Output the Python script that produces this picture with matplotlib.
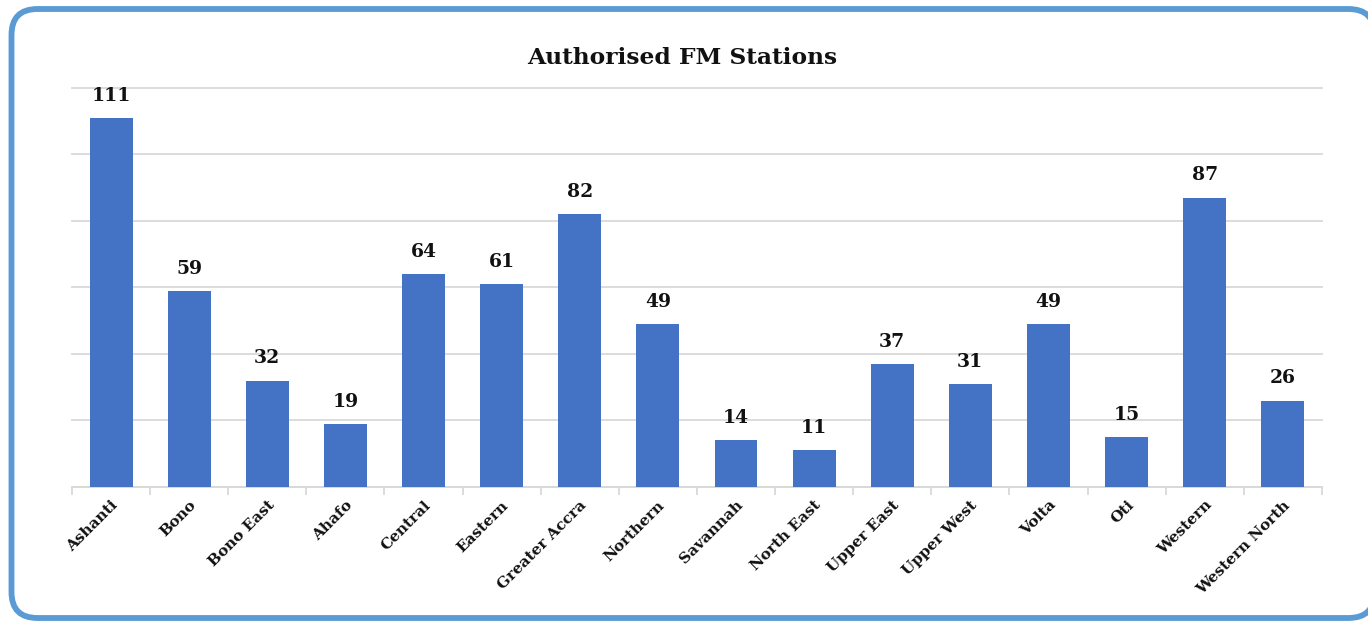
import matplotlib.pyplot as plt
from matplotlib.patches import FancyBboxPatch
from matplotlib.transforms import IdentityTransform

regions = ["Ashanti", "Bono", "Bono East", "Ahafo", "Central", "Eastern",
           "Greater Accra", "Northern", "Savannah", "North East", "Upper East",
           "Upper West", "Volta", "Oti", "Western", "Western North"]
stations = [111, 59, 32, 19, 64, 61, 82, 49, 14, 11, 37, 31, 49, 15, 87, 26]

plt.rcParams['font.family'] = ['DejaVu Serif']

fig = plt.figure(figsize=(13.68, 6.21), dpi=100)
ax = fig.add_axes([0.0526, 0.2158, 0.9137, 0.6425])

x = range(len(regions))
bars = ax.bar(x, stations, width=0.55, color="#4472C4", zorder=3)

for b, v in zip(bars, stations):
    ax.text(b.get_x() + b.get_width() / 2, v + 4, str(v), ha="center",
            va="bottom", fontsize=13.5, fontweight="bold", color="#111111")

ax.set_xlim(-0.5, len(regions) - 0.5)
ax.set_ylim(0, 120)
ax.set_yticks(range(0, 121, 20))
ax.yaxis.grid(True, color="#d9d9d9", linewidth=1.3, zorder=0)
for gl in ax.yaxis.get_gridlines():
    gl.set_clip_on(False)
ax.tick_params(axis="y", left=False, labelleft=False)

ax.set_xticks(list(x))
ax.set_xticklabels(regions, rotation=45, ha="right", rotation_mode="anchor",
                   fontsize=11, fontweight="bold", color="#111111")
ax.tick_params(axis="x", which="major", length=0, pad=8)
ax.set_xticks([i - 0.5 for i in range(len(regions) + 1)], minor=True)
ax.tick_params(axis="x", which="minor", length=6, color="#d9d9d9", width=1.3)

for s in ["top", "right", "left"]:
    ax.spines[s].set_visible(False)
ax.spines["bottom"].set_color("#d9d9d9")
ax.spines["bottom"].set_linewidth(1.3)

fig.text(0.4985, 0.907, "Authorised FM Stations", ha="center", va="center",
         fontsize=16.8, fontweight="bold", color="#111111")

# rounded frame around the chart, in pixel units (y measured from bottom);
# filled white so the renderer keeps the curved corners intact
frame = FancyBboxPatch((11.5, 621 - 618), 1363, 609,
                       boxstyle="round,pad=0,rounding_size=26",
                       transform=IdentityTransform(), facecolor="white",
                       edgecolor="#5B9BD5", linewidth=4.2, zorder=-1)
fig.patches.append(frame)

fig.savefig("out.png", dpi=100)
